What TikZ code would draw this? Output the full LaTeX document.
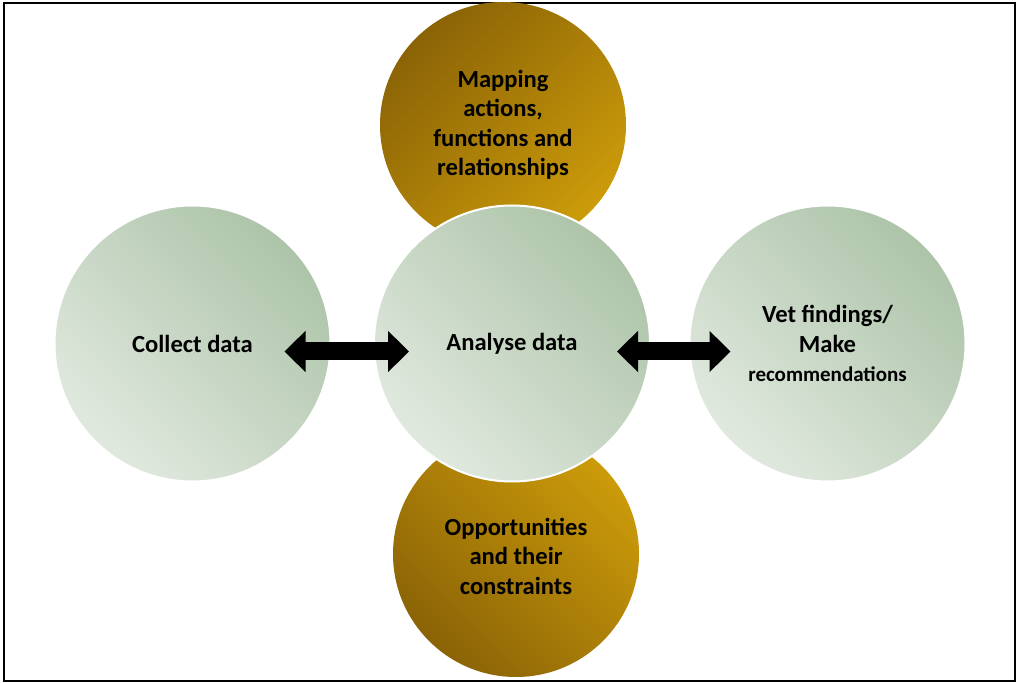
\documentclass[tikz,border=0pt]{standalone}
\usepackage{fontspec}
\setmainfont{Carlito}
\usetikzlibrary{arrows.meta}

\definecolor{golddark}{HTML}{8A6306}
\definecolor{goldlight}{HTML}{CC9B0A}
\definecolor{sagedark}{HTML}{ADC4A9}
\definecolor{sagelight}{HTML}{E1E9DF}

\tikzset{
  stage/.style={circle, minimum size=138pt, inner sep=0pt, draw=white, line width=1pt,
    top color=sagedark, bottom color=sagelight, shading angle=-45,
    align=center, font=\bfseries\fontsize{12.3}{14.7}\selectfont},
  theme/.style={circle, minimum size=123pt, inner sep=0pt,
    align=center, font=\bfseries\fontsize{12.3}{14.7}\selectfont},
  link/.style={line width=9pt,
    {Triangle[length=10.5pt,width=20pt]}-{Triangle[length=10.5pt,width=20pt]}}
}

\begin{document}
\begin{tikzpicture}[x=0.5pt,y=-0.5pt]
\useasboundingbox (0,0) rectangle (1018,683);
\draw[line width=1pt] (4,3) rectangle (1015,681);

% the two themes behind the middle step
\node (mapping)[theme, top color=golddark, bottom color=goldlight, shading angle=45] at (503,125)
  {Mapping\\actions,\\functions and\\relationships};
\node (chances)[theme, top color=goldlight, bottom color=golddark, shading angle=-45] at (516,554)
  {\\[-4pt]Opportunities\\and their\\constraints};

% the three steps
\node (collect)[stage] at (192.5,343.5) {Collect data};
\node (analyse)[stage] at (512,343.5) {Analyse data};
\node (vet)[stage] at (827.5,343.5) {Vet findings/\\Make\\{\fontsize{10.5}{12}\selectfont recommendations}};

% arrows sit a little below the middle line
\coordinate (c1) at ([yshift=-4pt]collect.east);
\coordinate (a1) at ([yshift=-4pt]analyse.west);
\coordinate (a2) at ([yshift=-4pt]analyse.east);
\coordinate (v1) at ([yshift=-4pt]vet.west);
\draw [link, shorten <=-23.5pt, shorten >=-18pt] (c1) -- (c1 -| a1);
\draw [link, shorten <=-17pt, shorten >=-21pt] (a2) -- (a2 -| v1);
\end{tikzpicture}
\end{document}
